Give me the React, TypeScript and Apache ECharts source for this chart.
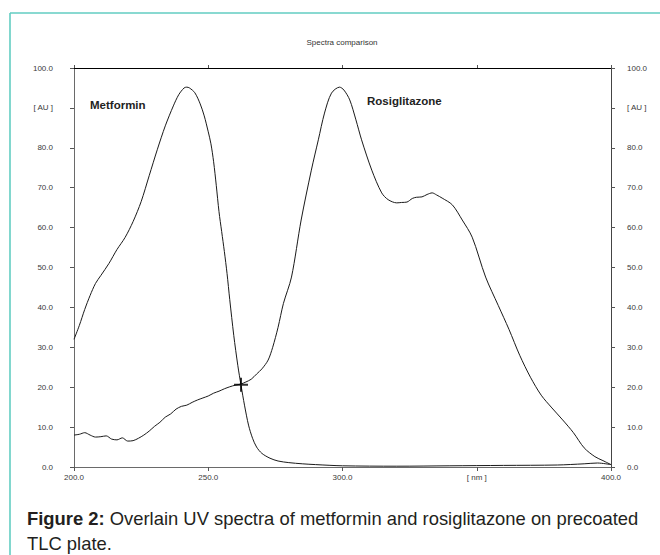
import React, { useEffect, useRef } from "react";
import * as echarts from "echarts";

const metforminWavelength = [
  200, 202, 204, 206, 208, 210, 213, 216, 219, 222, 225, 228, 231, 234, 237, 239, 241, 242, 243, 245,
  247, 248.5, 250, 251, 252, 253, 254, 255, 256, 257, 258, 259.5, 261, 262.2, 263.5, 265, 266.5, 268,
  270, 273, 276, 280, 285, 290, 300, 320, 340, 360, 380, 390, 395, 400,
];
const metforminAbsorbance = [
  32, 35.5, 39.5, 43, 46, 48, 51, 54.5, 57.5, 61.5, 66.5, 73, 79.5, 85.5, 90.5, 93.3, 95, 95.2, 95, 93.8,
  91, 88, 84, 81, 76.5, 70.5, 64, 59, 54, 48.5, 42, 33, 25.5, 20.5, 15.5, 10.5, 7.2, 5,
  3.4, 2.2, 1.5, 1.1, 0.8, 0.6, 0.3, 0.2, 0.3, 0.4, 0.5, 0.8, 1, 0.6,
];

const rosiglitazoneWavelength = [
  200, 202, 204, 206, 208, 210, 212, 214, 216, 218, 220, 222, 224, 226, 228, 230, 232, 234, 236, 238,
  240, 242, 244, 246, 248, 250, 252, 254, 256, 258, 260, 262.2, 264, 266, 268, 270, 272.3, 274, 276,
  278, 281, 284.6, 288.4, 291, 293.3, 295.9, 298.9, 300.5, 302.7, 305, 307.1, 310.9, 314.6, 317, 320.2,
  322, 324, 326, 327.5, 329.6, 331.5, 333.4, 335, 337.1, 340.9, 344.6, 348.3, 353.3, 358, 362, 366,
  370, 374, 378, 382, 386, 390, 394, 397, 400,
];
const rosiglitazoneAbsorbance = [
  8, 8.2, 8.6, 8.0, 7.5, 7.6, 7.8, 7.0, 6.8, 7.3, 6.5, 6.6, 7.2, 8.0, 9.0, 10.2, 11.2, 12.5, 13.3, 14.5,
  15.2, 15.5, 16.2, 16.8, 17.3, 17.8, 18.5, 19, 19.6, 20.1, 20.5, 20.8, 21.3, 22, 23.3, 24.6, 26.8, 30, 35,
  41, 47.6, 61.9, 74.4, 82, 88.7, 93.7, 95.2, 94.5, 92, 87, 82, 74.4, 68.7, 67, 66.2,
  66.3, 66.4, 67.3, 67.6, 67.7, 68.3, 68.7, 68.2, 67.4, 65.7, 61.9, 57.6, 47.6, 40.5, 34.5, 28,
  22.5, 18, 14.8, 11.8, 8.6, 4.8, 2.6, 1.6, 0.6,
];

const crossPoint = [262.2, 20.6];

const xTickLabels = ["200.0", "250.0", "300.0", "[ nm ]", "400.0"];
const yTickLabels = ["0.0", "10.0", "20.0", "30.0", "40.0", "50.0", "60.0", "70.0", "80.0", "[ AU ]", "100.0"];

const chartTitle = "Spectra comparison";
const seriesNames = ["Metformin", "Rosiglitazone"];
const captionBold = "Figure 2:";
const captionLine1 = " Overlain UV spectra of metformin and rosiglitazone on precoated";
const captionLine2 = "TLC plate.";

const FONT = "'Liberation Sans', Arial, sans-serif";

export default function App() {
  const ref = useRef<HTMLDivElement>(null);

  useEffect(() => {
    if (!ref.current) return;
    const chart = echarts.init(ref.current, undefined, { renderer: "svg" });

    const metData = metforminWavelength.map((w, i) => [w, metforminAbsorbance[i]]);
    const rosData = rosiglitazoneWavelength.map((w, i) => [w, rosiglitazoneAbsorbance[i]]);

    const labelStyle = { fontSize: 8, color: "#3a3a3a", fontFamily: FONT };

    chart.setOption({
      animation: false,
      backgroundColor: "#ffffff",
      grid: { left: 74, right: 49, top: 68, bottom: 88 },
      xAxis: [
        {
          type: "value",
          position: "bottom",
          min: 200,
          max: 400,
          interval: 50,
          axisLine: { show: true, lineStyle: { color: "#6a6a6a", width: 1 } },
          axisTick: { show: true, length: 4, lineStyle: { color: "#555" } },
          splitLine: { show: false },
          axisLabel: {
            ...labelStyle,
            margin: 6,
            formatter: (v: number) => xTickLabels[Math.round((v - 200) / 50)] ?? "",
          },
        },
        {
          type: "value",
          position: "top",
          min: 200,
          max: 400,
          interval: 50,
          axisLine: { show: true, onZero: false, lineStyle: { color: "#000", width: 1.2 } },
          axisTick: { show: true, length: 3, lineStyle: { color: "#555" } },
          splitLine: { show: false },
          axisLabel: { show: false },
        },
      ],
      yAxis: [
        {
          type: "value",
          position: "left",
          min: 0,
          max: 100,
          interval: 10,
          axisLine: { show: true, lineStyle: { color: "#6a6a6a", width: 1 } },
          axisTick: { show: true, length: 4, lineStyle: { color: "#555" } },
          splitLine: { show: false },
          axisLabel: {
            ...labelStyle,
            margin: 21,
            formatter: (v: number) => yTickLabels[Math.round(v / 10)] ?? "",
          },
        },
        {
          type: "value",
          position: "right",
          min: 0,
          max: 100,
          interval: 10,
          axisLine: { show: true, lineStyle: { color: "#444", width: 1 } },
          axisTick: { show: true, length: 4, lineStyle: { color: "#555" } },
          splitLine: { show: false },
          axisLabel: {
            ...labelStyle,
            margin: 16,
            formatter: (v: number) => yTickLabels[Math.round(v / 10)] ?? "",
          },
        },
      ],
      series: [
        {
          name: seriesNames[0],
          type: "line",
          data: metData,
          showSymbol: false,
          smooth: 0.3,
          lineStyle: { color: "#1a1a1a", width: 1 },
          z: 3,
        },
        {
          name: seriesNames[1],
          type: "line",
          data: rosData,
          showSymbol: false,
          smooth: 0.3,
          lineStyle: { color: "#1a1a1a", width: 1 },
          z: 3,
        },
        {
          type: "scatter",
          data: [crossPoint],
          symbol: "path://M0,7L14,7M7,0L7,14",
          symbolSize: 14,
          itemStyle: { color: "none", borderColor: "#000", borderWidth: 2 },
          z: 5,
        },
      ],
      graphic: [
        {
          type: "line",
          shape: { x1: 10, y1: 13, x2: 660, y2: 13 },
          style: { stroke: "#62cdc2", lineWidth: 1.6 },
        },
        {
          type: "line",
          shape: { x1: 10, y1: 13, x2: 10, y2: 555 },
          style: { stroke: "#62cdc2", lineWidth: 1.6 },
        },
        {
          type: "text",
          x: 342,
          y: 42,
          style: {
            text: chartTitle,
            fontSize: 8,
            fill: "#333",
            fontFamily: FONT,
            align: "center",
            verticalAlign: "middle",
          },
        },
        {
          type: "text",
          x: 90,
          y: 105,
          style: {
            text: seriesNames[0],
            fontSize: 11.5,
            fontWeight: "bold",
            fill: "#222",
            fontFamily: FONT,
            verticalAlign: "middle",
          },
        },
        {
          type: "text",
          x: 367,
          y: 101,
          style: {
            text: seriesNames[1],
            fontSize: 11.5,
            fontWeight: "bold",
            fill: "#222",
            fontFamily: FONT,
            verticalAlign: "middle",
          },
        },
        {
          type: "text",
          x: 27,
          y: 518,
          style: {
            text: "{b|" + captionBold + "}{n|" + captionLine1 + "}",
            verticalAlign: "middle",
            rich: {
              b: { fontSize: 18.4, fontWeight: "bold", fill: "#231f20", fontFamily: FONT },
              n: { fontSize: 18.4, fill: "#231f20", fontFamily: FONT },
            },
          },
        },
        {
          type: "text",
          x: 27,
          y: 543,
          style: {
            text: captionLine2,
            fontSize: 18.4,
            fill: "#231f20",
            fontFamily: FONT,
            verticalAlign: "middle",
          },
        },
      ],
    });

    return () => chart.dispose();
  }, []);

  return (
    <div
      ref={ref}
      style={{ position: "fixed", left: 0, top: 0, width: 660, height: 555, background: "#fff" }}
    />
  );
}
